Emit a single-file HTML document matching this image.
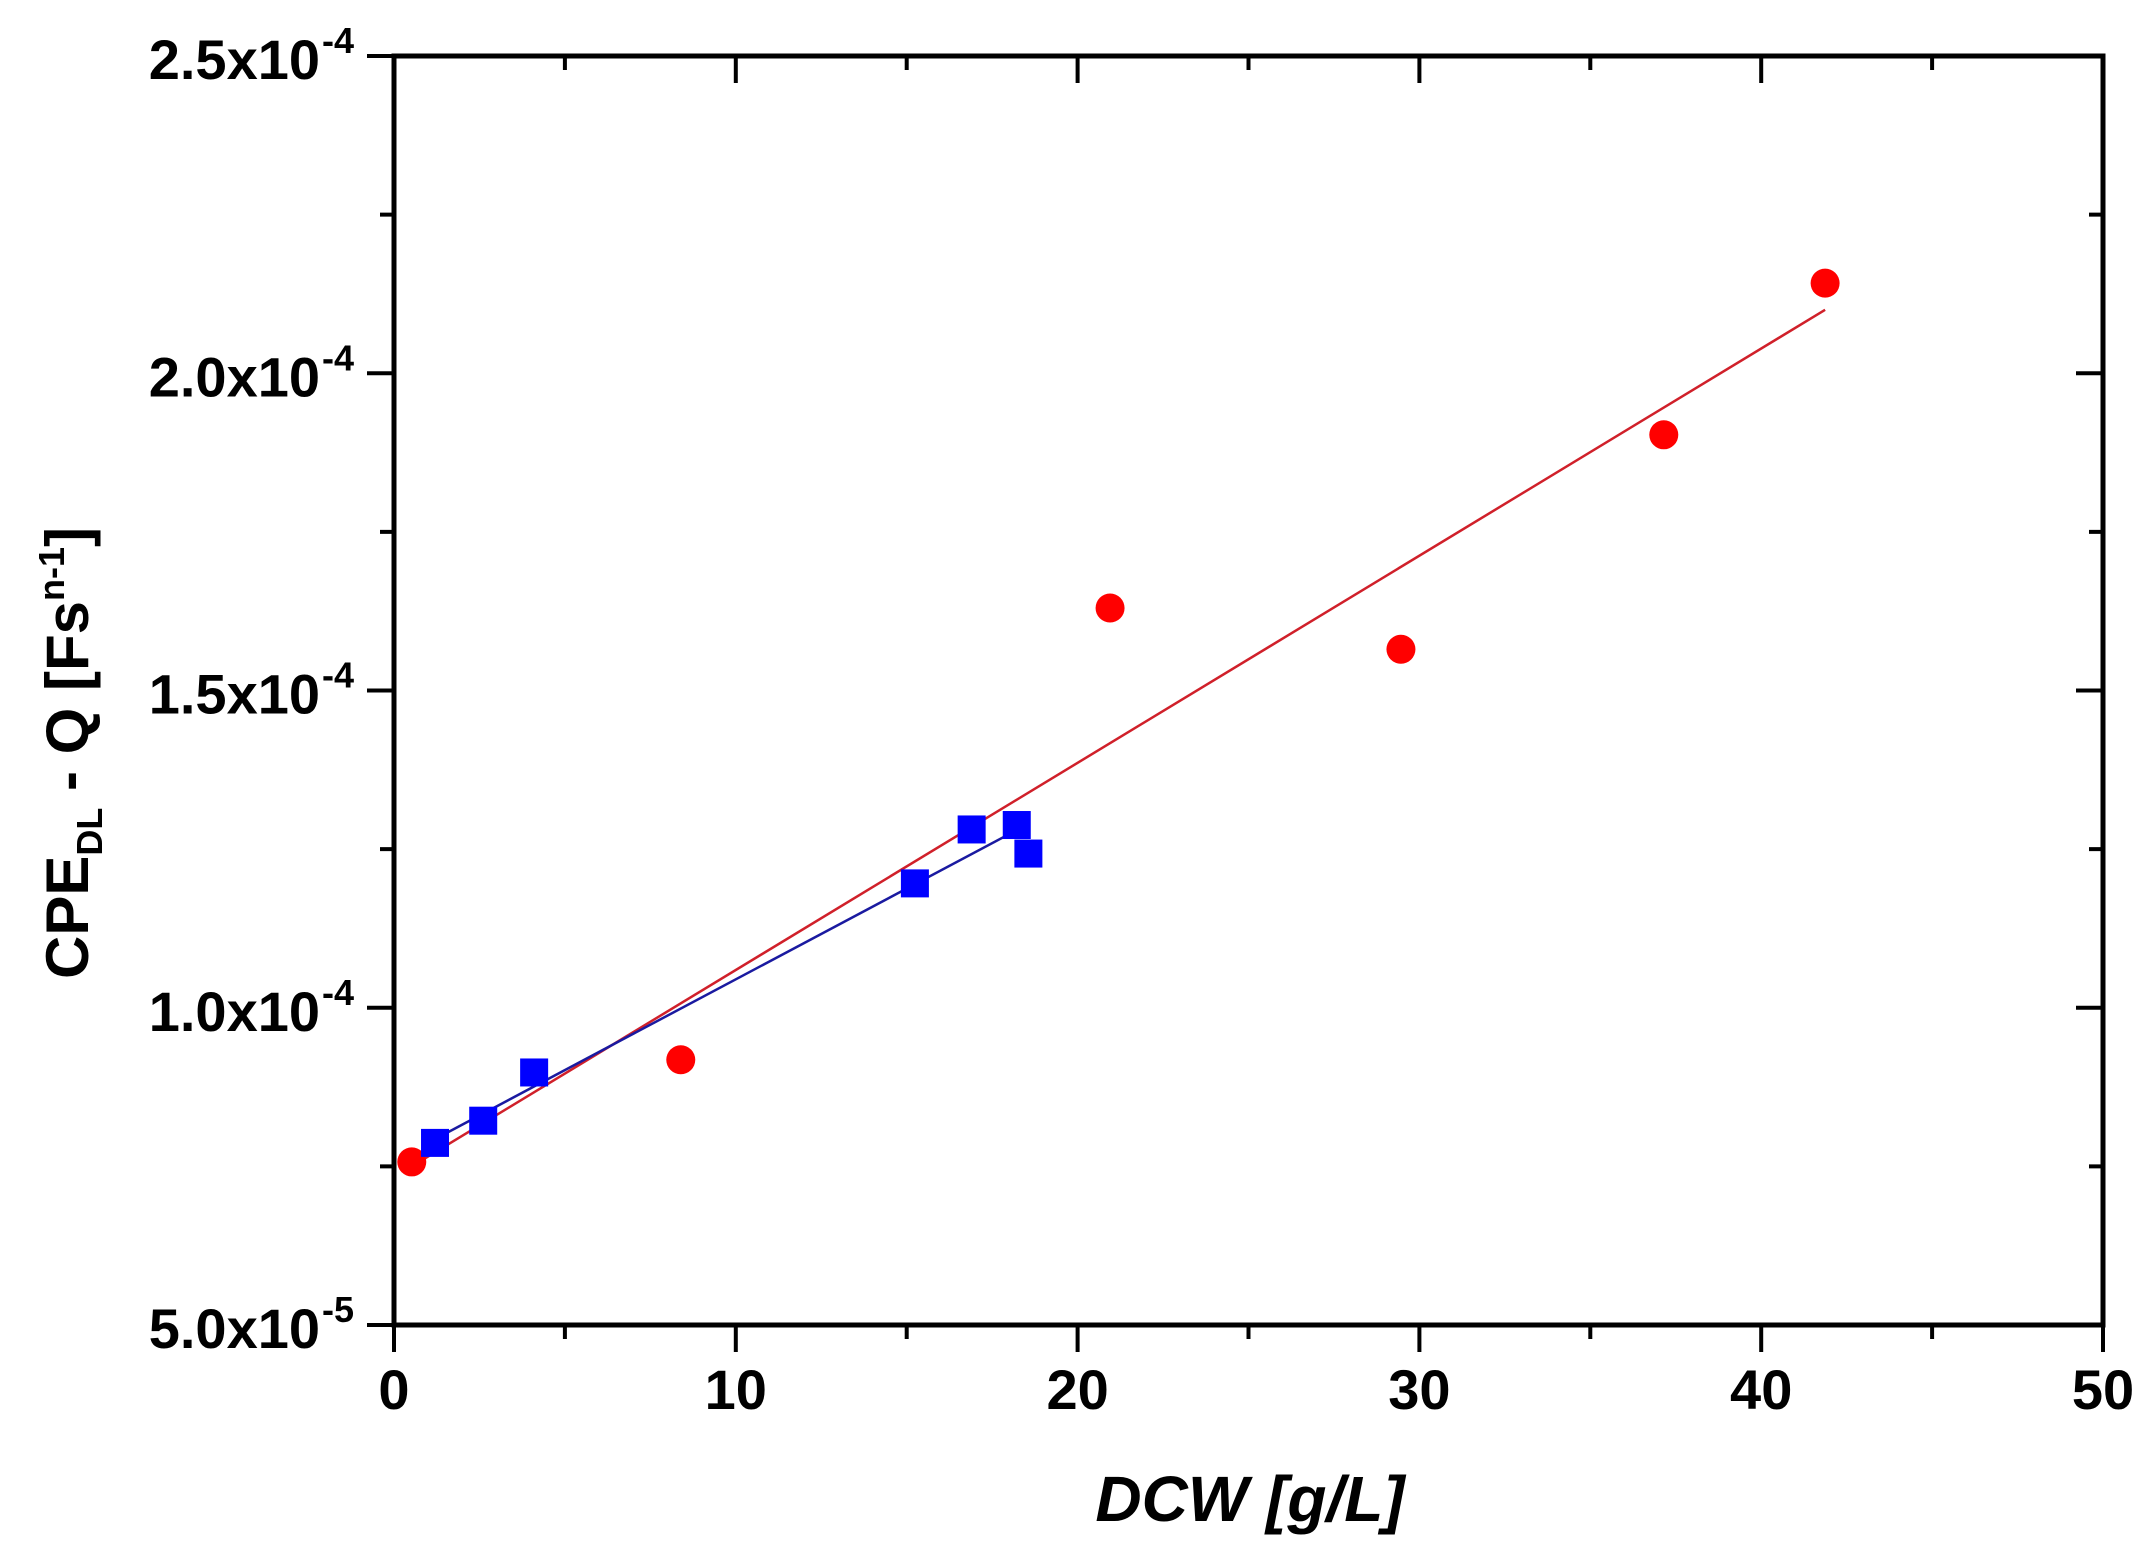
<!DOCTYPE html>
<html><head><meta charset="utf-8"><style>
html,body{margin:0;padding:0;background:#fff;}
svg{display:block;font-family:"Liberation Sans",Arial,sans-serif;}
</style></head><body>
<svg id="chart" width="2152" height="1563" viewBox="0 0 2152 1563" xmlns="http://www.w3.org/2000/svg">
<g id="ticks"></g>
<g id="fits"></g>
<g id="marks"></g>
<rect x="394" y="56" width="1709" height="1269" fill="none" stroke="#000" stroke-width="5"/>
<g id="labels" font-weight="bold" fill="#000"></g>
<text x="1250" y="1521" text-anchor="middle" font-size="64" font-weight="bold" font-style="italic">DCW [g/L]</text>
<text transform="translate(88,753) rotate(-90)" text-anchor="middle" font-size="60" font-weight="bold">CPE<tspan font-size="36" dy="14">DL</tspan><tspan dy="-14"> - Q [Fs</tspan><tspan font-size="36" dy="-24">n-1</tspan><tspan dy="24">]</tspan></text>
</svg>
<script>
const xTicks = [0, 10, 20, 30, 40, 50];
const yTicks = [5e-5, 1e-4, 1.5e-4, 2e-4, 2.5e-4];
const yMantissa = ["5.0x10", "1.0x10", "1.5x10", "2.0x10", "2.5x10"];
const yExp = ["-5", "-4", "-4", "-4", "-4"];
const redX = [0.52, 8.39, 20.95, 29.46, 37.15, 41.87];
const redY = [7.57e-5, 9.18e-5, 1.63e-4, 1.565e-4, 1.903e-4, 2.142e-4];
const blueX = [1.2, 2.61, 4.1, 15.24, 16.9, 18.22, 18.56];
const blueY = [7.87e-5, 8.22e-5, 8.98e-5, 1.196e-4, 1.281e-4, 1.288e-4, 1.243e-4];
const redFitX = [0.52, 41.87];
const redFitY = [7.5e-5, 2.10e-4];
const blueFitX = [1.2, 18.22];
const blueFitY = [7.93e-5, 1.28e-4];

const X0=394,X1=2103,Y0=1325,Y1=56;
const sx = v => X0 + (v-0)/(50-0)*(X1-X0);
const sy = v => Y0 - (v-5e-5)/(2.5e-4-5e-5)*(Y0-Y1);
const NS='http://www.w3.org/2000/svg';
function mk(tag, attrs, parent){const e=document.createElementNS(NS,tag);for(const k in attrs)e.setAttribute(k,attrs[k]);parent.appendChild(e);return e;}
const T=document.getElementById('ticks'), L=document.getElementById('labels'), F=document.getElementById('fits'), M=document.getElementById('marks');

for(let v=0; v<=50; v+=5){
  const major = v%10===0, x=sx(v), len = major?27:14;
  const b = mk('line',{x1:x,x2:x,y1:Y0,y2:Y0+len,stroke:'#000','stroke-width':4},T);
  
  
  const t = mk('line',{x1:x,x2:x,y1:Y1,y2:Y1+len,stroke:'#000','stroke-width':4},T);
  
  
}
for(let i=0;i<9;i++){
  const v=5e-5+i*2.5e-5, major=i%2===0, y=sy(v), len=major?27:14;
  const l = mk('line',{x1:X0-len,x2:X0,y1:y,y2:y,stroke:'#000','stroke-width':4},T);
  
  
  const r = mk('line',{x1:X1-len,x2:X1,y1:y,y2:y,stroke:'#000','stroke-width':4},T);
  
  
}
xTicks.forEach(v=>{
  const t=mk('text',{x:sx(v),y:1409,'text-anchor':'middle','font-size':56},L);
  
  
  t.textContent=v;
});
yTicks.forEach((v,i)=>{
  const y=sy(v);
  const t=mk('text',{x:320,y:y+23,'text-anchor':'end','font-size':56},L);
  
  
  t.textContent=yMantissa[i];
  const s=mk('text',{x:322,y:y-3,'font-size':36},L);
  
  
  s.textContent=yExp[i];
});
const rl=mk('line',{x1:sx(redFitX[0]),y1:sy(redFitY[0]),x2:sx(redFitX[1]),y2:sy(redFitY[1]),stroke:'#d0202a','stroke-width':2.5},F);


const bl=mk('line',{x1:sx(blueFitX[0]),y1:sy(blueFitY[0]),x2:sx(blueFitX[1]),y2:sy(blueFitY[1]),stroke:'#1a1aa0','stroke-width':2.5},F);


redX.forEach((x,i)=>{
  const c=mk('circle',{cx:sx(x),cy:sy(redY[i]),r:14.5,fill:'#ff0000'},M);
  
  
});
blueX.forEach((x,i)=>{
  const r=mk('rect',{x:sx(x)-14,y:sy(blueY[i])-14,width:28,height:28,fill:'#0000ff'},M);
  
  
});
</script>
</body></html>
